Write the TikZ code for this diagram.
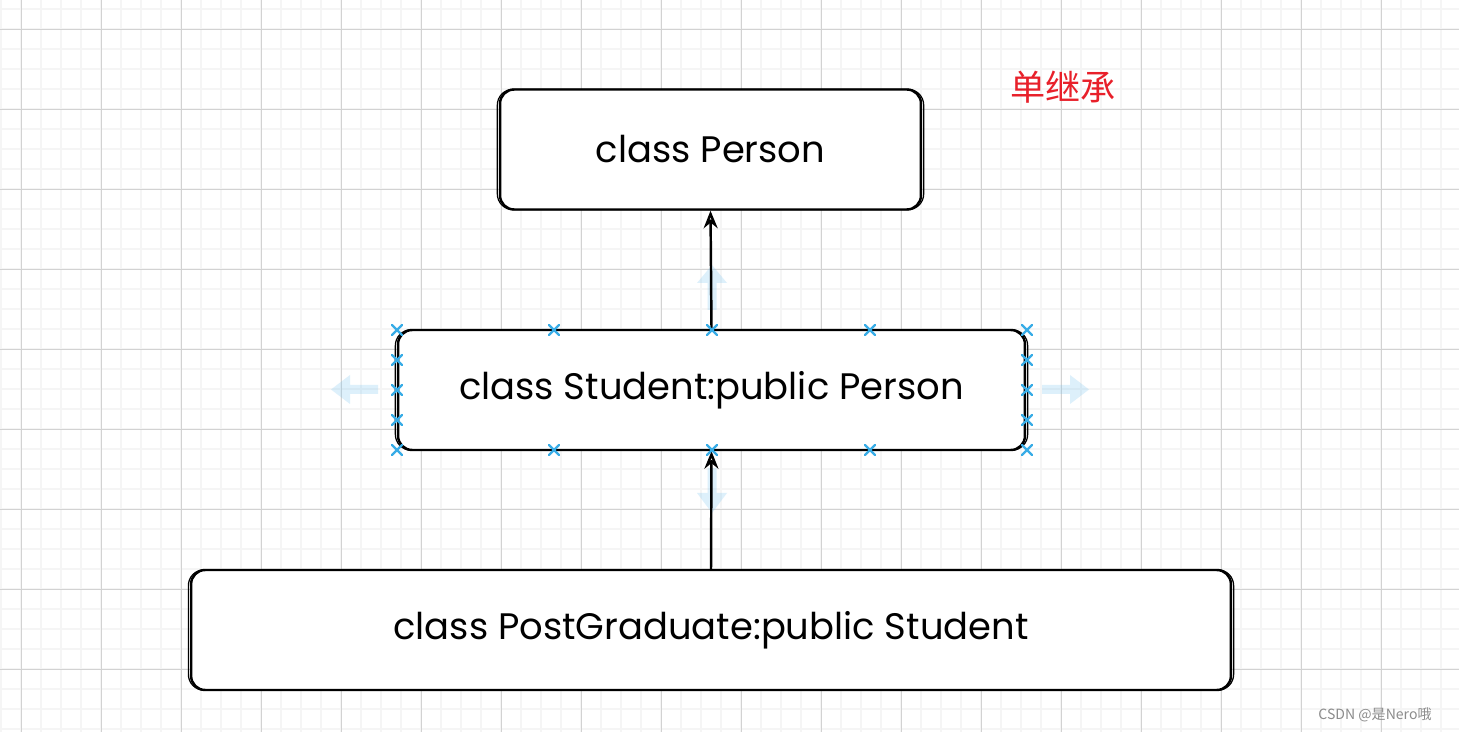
\documentclass[tikz,border=0pt]{standalone}
\usepackage{fontspec}
\setmainfont{Poppins}
\newfontfamily\cjk{Noto Sans CJK SC}
\usetikzlibrary{arrows.meta}
\definecolor{gridminor}{RGB}{245,245,245}
\definecolor{gridmajor}{RGB}{210,210,210}
\definecolor{handleblue}{RGB}{56,172,230}
\definecolor{hintblue}{RGB}{120,196,240}
\definecolor{titlered}{RGB}{232,32,42}
\definecolor{markgray}{RGB}{140,140,140}

\begin{document}
\begin{tikzpicture}[x=0.02cm,y=-0.02cm,line cap=round,line join=round,
    classbox/.style={draw,fill=white,line width=1.4pt,rounded corners=8pt,
        minimum height=2.4cm,inner sep=0pt,font=\fontsize{21}{25}\selectfont},
    inherit/.style={line width=1.4pt,-{Stealth[open,length=10pt,width=8pt]}},
    handle/.style={draw=handleblue,line width=1.3pt},
    hint/.style={fill=hintblue,fill opacity=0.25}]
\useasboundingbox (0,0) rectangle (1459,732);
\fill[white] (0,0) rectangle (1459,732);

%%%%%%%%%%%%%%%% GRID %%%%%%%%%%%%%%%%
\foreach \k in {0,...,72}
    \draw[gridminor,line width=0.9pt] (1+20*\k,0) -- +(0,732);
\foreach \k in {0,...,36}
    \draw[gridminor,line width=0.9pt] (0,9+20*\k) -- +(1459,0);
\foreach \k in {0,...,17}
    \draw[gridmajor,line width=0.55pt] (21+80*\k,0) -- +(0,732);
\foreach \k in {0,...,8}
    \draw[gridmajor,line width=0.55pt] (0,29+80*\k) -- +(1459,0);

%%%%%%%%%%%%%%%% CLASSES %%%%%%%%%%%%%%%%
\node[classbox,minimum width=8.42cm] (person) at (710.5,149.5) {class Person};
\node[classbox,minimum width=12.54cm] (student) at (711.5,390) {class Student:public Person};
\node[classbox,minimum width=20.8cm] (postgrad) at (711,630) {class PostGraduate:public Student};

% second pencil stroke
\foreach \n in {person,student,postgrad}
    \draw[line width=0.7pt,rounded corners=9pt] ([shift={(-1.5,1)}]\n.north west)
        rectangle ([shift={(1.5,-1)}]\n.south east);

\node[text=titlered,font=\cjk\fontsize{20}{24}\selectfont] (title) at (1063,87) {单继承};

%%%%%%%%%%%%%%%% SELECTION %%%%%%%%%%%%%%%%
\fill[hint] (378,385) -- (350,385) -- (350,375) -- (331,389.5) -- (350,404) -- (350,394) -- (378,394) -- cycle;
\fill[hint] (1042,385) -- (1070,385) -- (1070,375) -- (1089,389.5) -- (1070,404) -- (1070,394) -- (1042,394) -- cycle;
\fill[hint] (707.5,310) -- (707.5,283) -- (697,283) -- (712,265) -- (727,283) -- (716.5,283) -- (716.5,310) -- cycle;
\fill[hint] (707.5,468) -- (707.5,493) -- (697,493) -- (712,513) -- (727,493) -- (716.5,493) -- (716.5,468) -- cycle;

\draw[inherit] (student.north) -- (person.south);
\draw[inherit] (postgrad.north) -- (student.south);

\foreach \x/\y in {
    397/330,554/330,712/330,870/330,1027/330,
    397/450,554/450,712/450,870/450,1027/450,
    397/360,397/390,397/420,
    1027/360,1027/390,1027/420
}
    \draw[handle] (\x-5,\y-5) -- (\x+5,\y+5) (\x-5,\y+5) -- (\x+5,\y-5);

\node[text=markgray,font=\cjk\fontsize{8}{10}\selectfont] (mark) at (1375,715) {CSDN @是Nero哦};

\end{tikzpicture}
\end{document}
